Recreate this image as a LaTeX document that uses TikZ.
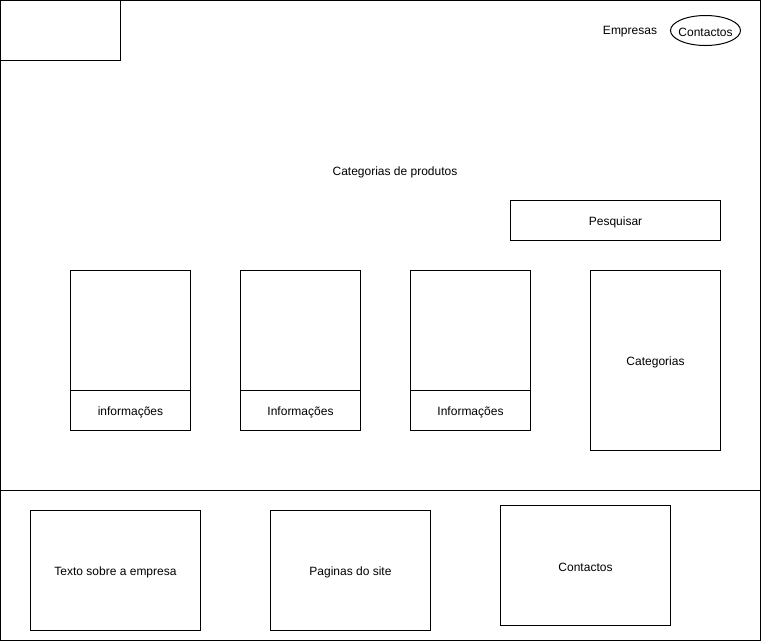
\documentclass[tikz,border=0pt]{standalone}
\usepackage{fontspec}
\setmainfont{Liberation Sans}
\begin{document}
\begin{tikzpicture}[x=1pt,y=-1pt,line width=1pt,
  lbl/.style={font=\fontsize{12}{14}\selectfont,inner sep=0pt,yshift=-1.5pt},
  frame/.style={draw,minimum width=#1,inner sep=0pt,minimum height=120pt}]
\useasboundingbox (0,0) rectangle (761,641);
% outer frame
\draw (0.5,0.5) rectangle (760.5,640.5);
\coordinate (sl) at (0.5,490.5);
\coordinate (sr) at (760.5,490.5);
\draw (sl) -- (sr);
% logo
\draw (0.5,0.5) rectangle (120.5,60.5);
% header
\node[lbl] (emp) at (630,30.5) {Empresas};
\coordinate (contc) at (705.5,30.5);
\draw (contc) ellipse [x radius=35pt,y radius=15pt];
\node[lbl] (cont) at (contc) {Contactos};
\node[lbl] (cat) at (395,170.5) {Categorias de produtos};
% search
\draw (510.5,200.5) rectangle (720.5,240.5);
\node[lbl] (pesq) at (615.5,220.5) {Pesquisar};
% cards
\foreach \x/\t/\n in {70/informações/c1,240/Informações/c2,410/Informações/c3}{
  \draw (\x+0.5,270.5) rectangle (\x+120.5,430.5);
  \draw (\x+0.5,390.5) -- (\x+120.5,390.5);
  \node[lbl] (\n) at (\x+60.5,410.5) {\t};
}
\draw (590.5,270.5) rectangle (720.5,450.5);
\node[lbl] (cats) at (655.5,360.5) {Categorias};
% footer
\draw (30.5,510.5) rectangle (200.5,630.5);
\node[lbl] (txt) at (115.5,570.5) {Texto sobre a empresa};
\draw (270.5,510.5) rectangle (430.5,630.5);
\node[lbl] (pag) at (350.5,570.5) {Paginas do site};
\draw (500.5,505.5) rectangle (670.5,625.5);
\node[lbl] (fcont) at (585.5,565.5) {Contactos};
\end{tikzpicture}
\end{document}
